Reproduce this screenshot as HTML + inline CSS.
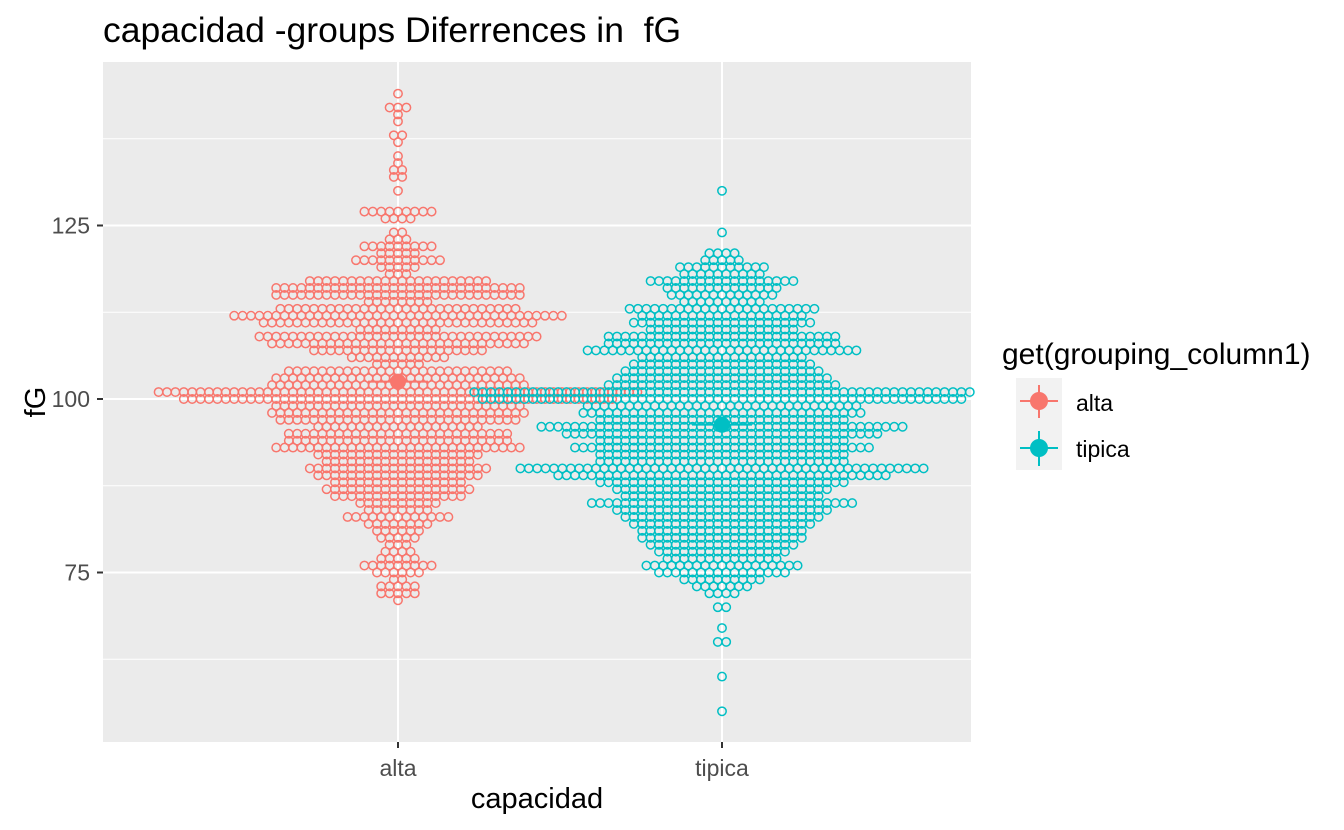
<!DOCTYPE html>
<html><head><meta charset="utf-8">
<style>
html,body{margin:0;padding:0;background:#fff;}
svg{display:block;font-family:"Liberation Sans",sans-serif;}
</style></head>
<body>
<svg id="chart" width="1344" height="830" viewBox="0 0 1344 830">
  <rect x="103" y="62" width="868" height="680" fill="#ebebeb"/>
  <g id="grid"></g>
  <g id="pts"></g>
  <g id="means"></g>
  <g id="axes"></g>
  <text x="103" y="42" font-size="35.5" fill="#000" style="white-space:pre">capacidad -groups Diferrences in&#160; fG</text>
  <text x="537" y="808" font-size="29" text-anchor="middle" fill="#000">capacidad</text>
  <text transform="translate(45,402) rotate(-90)" font-size="29" text-anchor="middle" fill="#000">fG</text>
  <g>
    <text x="1002" y="364" font-size="30" fill="#000">get(grouping_column1)</text>
    <g>
      <rect x="1016" y="378" width="46" height="46" fill="#f2f2f2"/>
      <line x1="1039" y1="385" x2="1039" y2="418" stroke="#F8766D" stroke-width="2"/>
      <line x1="1020" y1="401" x2="1058" y2="401" stroke="#F8766D" stroke-width="2"/>
      <circle cx="1039" cy="401" r="9" fill="#F8766D"/>
      <text x="1076" y="411" font-size="23" fill="#000">alta</text>
    </g>
    <g>
      <rect x="1016" y="424" width="46" height="46" fill="#f2f2f2"/>
      <line x1="1039" y1="431" x2="1039" y2="466" stroke="#00BFC4" stroke-width="2"/>
      <line x1="1020" y1="448" x2="1058" y2="448" stroke="#00BFC4" stroke-width="2"/>
      <circle cx="1039" cy="448" r="9" fill="#00BFC4"/>
      <text x="1076" y="457" font-size="23" fill="#000">tipica</text>
    </g>
  </g>
</svg>
<script>
const categories = ["alta", "tipica"];
const colors = ["#F8766D", "#00BFC4"];
const yTicks = [75, 100, 125];
const yMinor = [62.5, 87.5, 112.5, 137.5];
const altaValues = [144,142,141,140,138,137,135,134,133,132,130,127,126,124,123,122,121,120,119,118,117,116,115,114,113,112,111,110,109,108,107,106,105,104,103,102,101,100,99,98,97,96,95,94,93,92,91,90,89,88,87,86,85,84,83,82,81,80,79,78,77,76,75,74,73,72,71];
const altaCounts = [1,3,1,1,2,1,1,1,2,2,1,9,4,2,3,9,5,11,5,3,22,30,30,8,29,40,33,10,34,31,21,12,6,27,30,31,58,52,30,31,29,20,27,27,30,20,18,22,20,16,18,16,10,8,13,8,6,5,3,4,5,9,6,2,5,5,1];
const tipicaValues = [130,124,121,120,119,118,117,116,115,114,113,112,111,110,109,108,107,106,105,104,103,102,101,100,99,98,97,96,95,94,93,92,91,90,89,88,87,86,85,84,83,82,81,80,79,78,77,76,75,74,73,72,70,67,65,60,55];
const tipicaCounts = [1,1,4,5,11,10,18,14,13,10,23,20,22,18,28,28,33,20,22,24,26,28,60,58,33,34,30,44,38,30,36,30,30,49,40,30,26,24,32,26,24,22,20,20,18,16,14,19,16,10,7,4,2,1,2,1,1];
const groupMeans = [102.5, 96.3];
const groupCI = [1.0, 1.0];

const NS = "http://www.w3.org/2000/svg";
const xPos = c => [398, 722][categories.indexOf(c)];
const yScale = v => 399 - (v - 100) * 6.94;
function mk(tag, attrs, parent){ const e=document.createElementNS(NS,tag); for(const k in attrs) e.setAttribute(k,attrs[k]); parent.appendChild(e); return e; }

const grid = document.getElementById('grid');
yMinor.forEach(v=>{ mk('line',{x1:103,x2:971,y1:yScale(v),y2:yScale(v),stroke:'#fff','stroke-width':1},grid); });
yTicks.forEach(v=>{ mk('line',{x1:103,x2:971,y1:yScale(v),y2:yScale(v),stroke:'#fff','stroke-width':2},grid); });
categories.forEach(c=>{ mk('line',{x1:xPos(c),x2:xPos(c),y1:62,y2:742,stroke:'#fff','stroke-width':2},grid); });

const axes = document.getElementById('axes');
yTicks.forEach(v=>{
  const t = mk('line',{x1:97,x2:103,y1:yScale(v),y2:yScale(v),stroke:'#333','stroke-width':2},axes);
  
  
  const l = mk('text',{x:90,y:yScale(v)+8,'font-size':23,'text-anchor':'end',fill:'#4d4d4d'},axes);
  l.textContent = v;
  
  
});
categories.forEach(c=>{
  const t = mk('line',{x1:xPos(c),x2:xPos(c),y1:742,y2:748,stroke:'#333','stroke-width':2},axes);
  
  
  const l = mk('text',{x:xPos(c),y:776,'font-size':23,'text-anchor':'middle',fill:'#4d4d4d'},axes);
  l.textContent = c;
  
  
});

const pts = document.getElementById('pts');
const step = 8.4;
function drawGroup(ci, vals, counts){
  const cx0 = xPos(categories[ci]);
  vals.forEach((v,i)=>{
    const n = counts[i];
    for(let k=0;k<n;k++){
      const x = cx0 + (k - (n-1)/2) * step;
      if (x < 103 || x > 971) continue;
      const p = mk('circle',{cx:x,cy:yScale(v),r:4.2,fill:'none',stroke:colors[ci],'stroke-width':1.5},pts);
      
      
    }
  });
}
drawGroup(0, altaValues, altaCounts);
drawGroup(1, tipicaValues, tipicaCounts);

const means = document.getElementById('means');
categories.forEach((c,i)=>{
  const x=xPos(c), y=yScale(groupMeans[i]);
  mk('line',{x1:x,x2:x,y1:yScale(groupMeans[i]+groupCI[i]),y2:yScale(groupMeans[i]-groupCI[i]),stroke:colors[i],'stroke-width':2},means);
  mk('line',{x1:x-30,x2:x+30,y1:y,y2:y,stroke:colors[i],'stroke-width':2},means);
  const m = mk('circle',{cx:x,cy:y,r:8,fill:colors[i]},means);
  
  
});
</script>
</body></html>
